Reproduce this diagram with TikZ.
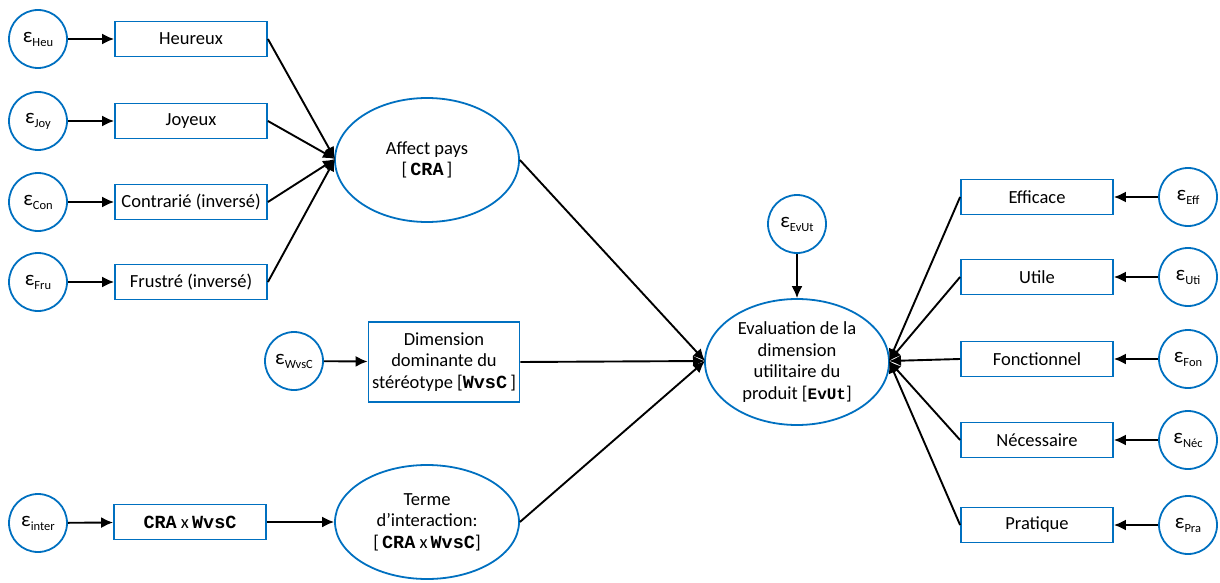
\documentclass[tikz,border=0pt]{standalone}
\usepackage{fontspec}
\setmainfont{Carlito}
\setmonofont{Liberation Mono}
\usetikzlibrary{arrows.meta,shapes.geometric}
\definecolor{myblue}{RGB}{0,112,192}
\newcommand\epsn[1]{{\fontsize{21}{22}\selectfont ε}\raisebox{-4pt}{\fontsize{12.5}{14}\selectfont #1}}
\newcommand\mbx[1]{{\ttfamily\bfseries #1}}
\begin{document}
\begin{tikzpicture}[x=1pt,y=-1pt,
  every node/.style={font=\fontsize{18.5}{21.5}\selectfont},
  err/.style={circle, draw=myblue, line width=1.8pt, minimum size=58pt, inner sep=0pt},
  ind/.style={rectangle, draw=myblue, line width=1.8pt, minimum width=152pt, minimum height=35pt, inner sep=0pt, align=center},
  lat/.style={ellipse, draw=myblue, line width=1.8pt, minimum width=184pt, minimum height=124pt, inner sep=0pt, align=center},
  arr/.style={-{Latex[length=12pt,width=11pt]}, line width=1.9pt}]
\useasboundingbox (0,0) rectangle (1220,583);
% left indicators
\node[err] (h1) at (38,39) {\epsn{Heu}};
\node[ind] (b1) at (191,39) {Heureux};
\node[err] (h2) at (38,121) {\epsn{Joy}};
\node[ind] (b2) at (191,121) {Joyeux};
\node[err] (h3) at (38,202) {\epsn{Con}};
\node[ind] (b3) at (191,202) {Contrarié (inversé)};
\node[err] (h4) at (38,282) {\epsn{Fru}};
\node[ind] (b4) at (191,282) {Frustré (inversé)};
\node[lat] (aff) at (427,160) {Affect pays\\{[}\,\mbx{CRA}\,{]}};
% WvsC
\node[err] (ew) at (294,361) {\epsn{WvsC}};
\node[ind, minimum width=151pt, minimum height=80pt] (bw) at (444,362) {Dimension\\dominante du\\stéréotype {[}\mbx{WvsC}\,{]}};
% interaction
\node[err] (ei) at (38,523) {\epsn{inter}};
\node[ind] (bi) at (190,522) {\mbx{CRA} x\,\mbx{WvsC}};
\node[lat, minimum height=114pt] (ter) at (427,522) {Terme\\d’interaction:\\{[}\,\mbx{CRA} x\,\mbx{WvsC}{]}};
% outcome
\node[err] (ev) at (797,224) {\epsn{EvUt}};
\node[lat, minimum height=126pt] (eval) at (797,362) {Evaluation de la\\dimension\\utilitaire du\\produit {[}{\fontsize{16}{20}\selectfont\mbx{EvUt}}{]}};
% right indicators
\node[ind] (r1) at (1037,197) {Efficace};
\node[err] (e1) at (1188,197) {\epsn{Eff}};
\node[ind] (r2) at (1037,277) {Utile};
\node[err] (e2) at (1188,277) {\epsn{Uti}};
\node[ind] (r3) at (1037,359) {Fonctionnel};
\node[err] (e3) at (1188,359) {\epsn{Fon}};
\node[ind] (r4) at (1037,440) {Nécessaire};
\node[err] (e4) at (1188,440) {\epsn{Néc}};
\node[ind] (r5) at (1037,525) {Pratique};
\node[err] (e5) at (1188,525) {\epsn{Pra}};
% connectors
\coordinate (ca) at (335,159);
\coordinate (ce) at (705,361);
\coordinate (cr) at (889,361);
\foreach \i in {1,2,3,4}{
  \draw[arr] (h\i) -- (b\i);
  \draw[arr] (b\i.east) -- (ca);
}
\draw[arr] (ew) -- (bw);
\draw[arr] (ei) -- (bi);
\draw[arr] (bi) -- (ter);
\draw[arr] (aff.east) -- (ce);
\draw[arr] (bw.east) -- (ce);
\draw[arr] (ter.east) -- (ce);
\draw[arr] (ev) -- (eval);
\foreach \i in {1,...,5}{
  \draw[arr] (e\i) -- (r\i);
  \draw[arr] (r\i.west) -- (cr);
}
\end{tikzpicture}
\end{document}
